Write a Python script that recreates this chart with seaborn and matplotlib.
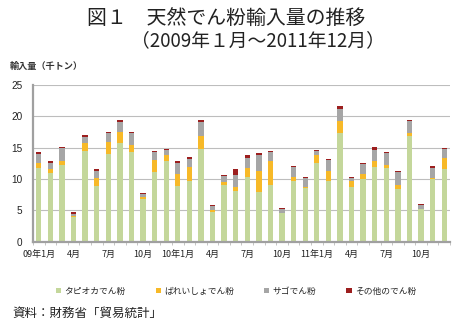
import numpy as np
import pandas as pd
import matplotlib
matplotlib.use("Agg")
import matplotlib.pyplot as plt
from matplotlib.patches import Patch
import seaborn as sns

# ---- data (thousand tonnes), Jan 2009 - Dec 2011 ----
months = [f"{y}-{m:02d}" for y in (2009, 2010, 2011) for m in range(1, 13)]
tick_labels = ["09年1月", "4月", "7月", "10月",
               "10年1月", "4月", "7月", "10月",
               "11年1月", "4月", "7月", "10月"]
tapioca = [11.8, 11.0, 12.2, 4.0, 14.4, 8.9, 14.0, 15.7, 14.3, 6.8, 11.1, 12.8,
           8.9, 9.7, 14.8, 4.75, 9.0, 8.15, 10.4, 7.9, 9.0, 4.5, 9.75, 8.5,
           12.5, 9.75, 17.3, 8.8, 9.95, 11.85, 11.75, 8.4, 16.9, 5.2, 9.95, 11.65]
potato = [0.7, 0.6, 0.6, 0.15, 1.3, 1.3, 1.85, 1.8, 1.1, 0.3, 1.9, 1.0,
          1.85, 2.15, 2.05, 0.3, 0.5, 0.65, 1.4, 3.4, 3.9, 0.1, 0.5, 0.15,
          1.3, 1.55, 1.9, 0.9, 0.85, 0.95, 0.5, 0.65, 0.4, 0.05, 0.15, 1.65]
sago = [1.5, 1.0, 2.1, 0.3, 1.05, 1.1, 1.45, 1.6, 1.9, 0.5, 1.3, 0.8,
        1.85, 1.4, 2.25, 0.65, 1.0, 1.85, 1.55, 2.55, 1.45, 0.55, 1.7, 1.5,
        0.65, 1.7, 2.0, 0.4, 1.6, 1.85, 1.9, 2.05, 1.9, 0.55, 1.65, 1.45]
other = [0.3, 0.2, 0.15, 0.25, 0.2, 0.25, 0.15, 0.25, 0.15, 0.1, 0.2, 0.15,
         0.25, 0.2, 0.25, 0.1, 0.2, 0.95, 0.5, 0.25, 0.2, 0.2, 0.2, 0.1,
         0.15, 0.25, 0.4, 0.2, 0.15, 0.4, 0.15, 0.2, 0.2, 0.2, 0.3, 0.2]
series_names = ["タピオカでん粉", "ばれいしょでん粉", "サゴでん粉", "その他のでん粉"]
colors = ["#C4D79B", "#F7B928", "#A6A6A6", "#9C1E1E"]

df = pd.DataFrame({"month": months, "tapioca": tapioca, "potato": potato,
                   "sago": sago, "other": other})
df["c1"] = df["tapioca"]
df["c2"] = df["c1"] + df["potato"]
df["c3"] = df["c2"] + df["sago"]
df["c4"] = df["c3"] + df["other"]

sns.set_theme(style="white")
plt.rcParams["font.family"] = ["Noto Sans CJK JP", "DejaVu Sans"]

fig = plt.figure(figsize=(4.58, 3.33), dpi=100)
ax = fig.add_axes([33 / 458, 1 - 241.7 / 333, (450 - 33) / 458, (241.7 - 85) / 333])

for col, c in zip(["c4", "c3", "c2", "c1"], colors[::-1]):
    sns.barplot(data=df, x="month", y=col, order=months, color=c, saturation=1,
                width=0.46, errorbar=None, linewidth=0, ax=ax)

ax.set_xlim(-0.5, len(months) - 0.5)
ax.set_ylim(0, 25)
ax.set_yticks([0, 5, 10, 15, 20, 25])
ax.set_yticklabels(["0", "5", "10", "15", "20", "25"], fontfamily="Liberation Sans", fontsize=7.2)
ax.yaxis.grid(True, color="#BDBDBD", linewidth=0.8)
ax.set_axisbelow(True)
ax.set_xlabel("")
ax.set_ylabel("")

ax.set_xticks(np.arange(0, len(months), 3))
ax.set_xticklabels(tick_labels, fontsize=6.5)
ax.set_xticks(np.arange(-0.5, len(months), 1), minor=True)
ax.tick_params(axis="x", which="major", length=0, pad=6, colors="#222222")
ax.tick_params(axis="x", which="minor", length=2.5, width=0.6, color="#BBBBBB", bottom=True)
ax.tick_params(axis="y", length=0, pad=7.5, colors="#222222")

for s in ["top", "right"]:
    ax.spines[s].set_visible(False)
for s in ["left", "bottom"]:
    ax.spines[s].set_color("#A0A0A0")
    ax.spines[s].set_linewidth(1.6)

fig.text(87 / 458, 1 - 19 / 333, "図１　天然でん粉輸入量の推移", fontsize=14.3,
         ha="left", va="center", color="#222222")
fig.text(131 / 458, 1 - 41 / 333, "（2009年１月～2011年12月）", fontsize=13.5,
         ha="left", va="center", color="#222222")
fig.text(10 / 458, 1 - 66 / 333, "輸入量（千トン）", fontsize=6.6, fontweight="bold",
         ha="left", va="center", color="#333333")

handles = [Patch(facecolor=c, edgecolor="none") for c in colors]
fig.legend(handles, series_names, loc="center", bbox_to_anchor=(236 / 458, 1 - 291 / 333),
           ncol=4, frameon=False, fontsize=6.3, handlelength=0.6, handleheight=0.6,
           handletextpad=0.4, columnspacing=3.4)

fig.text(12 / 458, 1 - 313 / 333, "資料：財務省「貿易統計」", fontsize=9,
         ha="left", va="center", color="#222222")

fig.savefig("out.png", dpi=100)
